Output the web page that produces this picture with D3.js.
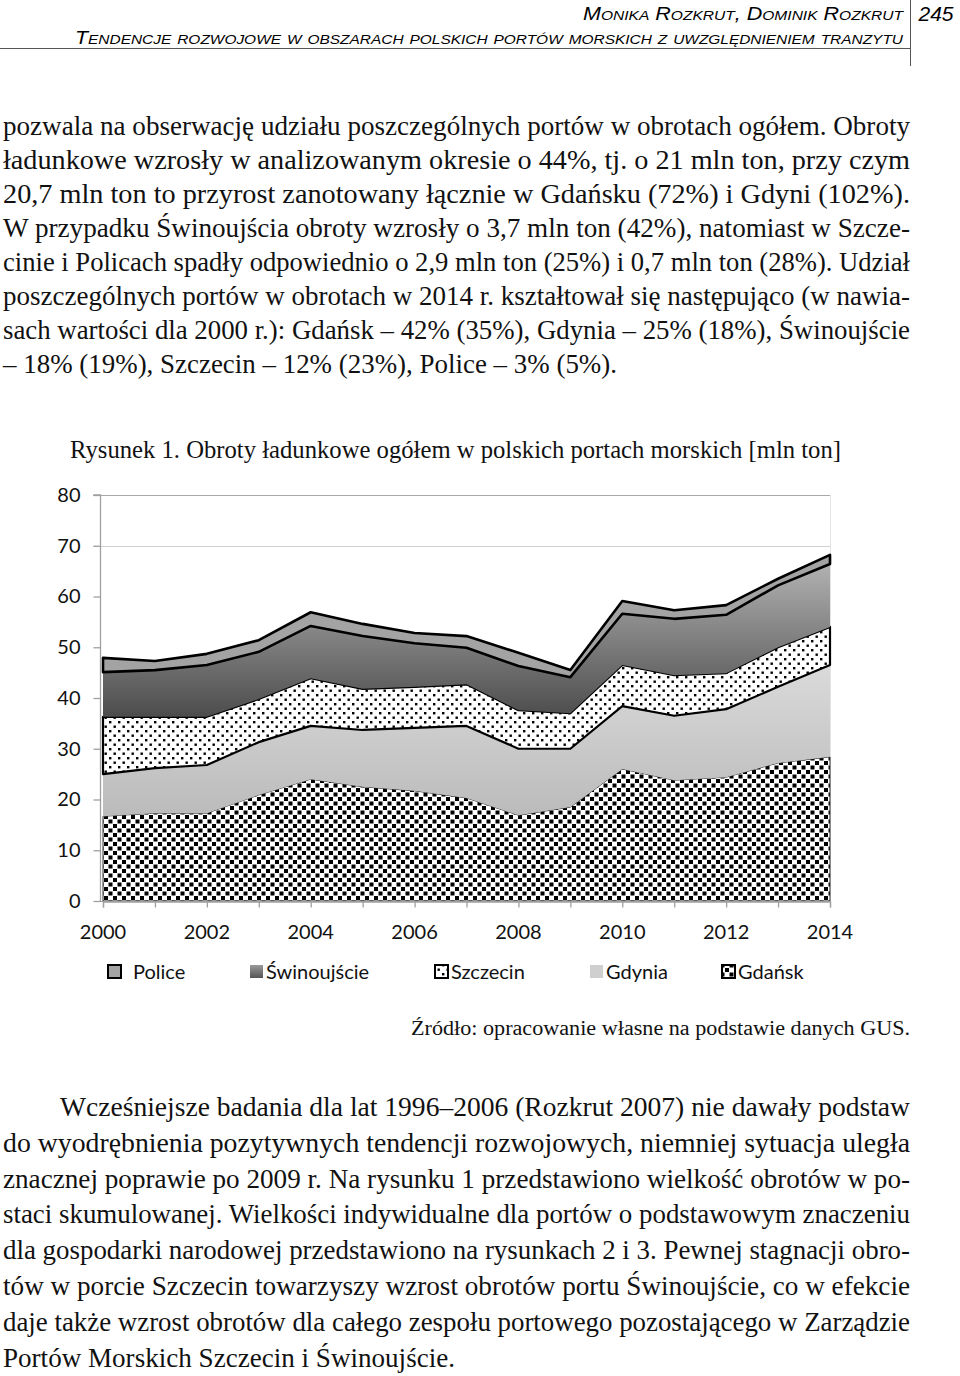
<!DOCTYPE html>
<html><head><meta charset="utf-8">
<script src="https://cdn.jsdelivr.net/npm/d3@7"></script>
<style>body{margin:0;background:#fff}</style>
</head><body>
<svg id="c" width="960" height="1376" xmlns="http://www.w3.org/2000/svg"></svg>
<script>
// ---- data ----
const years = [2000,2001,2002,2003,2004,2005,2006,2007,2008,2009,2010,2011,2012,2013,2014];
const seriesNames = ["Gdańsk","Gdynia","Szczecin","Świnoujście","Police"];
const gdansk      = [16.7,17.3,17.3,20.9,24.0,22.5,21.7,20.3,16.9,18.5,26.0,23.8,24.4,27.2,28.4];
const gdynia      = [8.3, 8.9, 9.5,10.4,10.5,11.2,12.4,14.2,13.1,11.5,12.4,12.7,13.4,15.0,18.1];
const szczecin    = [11.3,10.1,9.5, 8.5, 9.4, 8.1, 8.1, 8.2, 7.6, 7.0, 8.1, 8.0, 7.1, 7.8, 7.5];
const swinoujscie = [8.8, 9.2,10.2, 9.3,10.3,10.4, 8.6, 7.2, 8.7, 7.1,10.1,11.1,11.5,12.2,12.4];
const police      = [2.8, 1.8, 2.2, 2.3, 2.7, 2.4, 2.0, 2.3, 2.6, 1.4, 2.5, 1.7, 1.9, 1.3, 1.8];
const yTicks = [0,10,20,30,40,50,60,70,80];
const xTickLabels = [2000,2002,2004,2006,2008,2010,2012,2014];
const legendOrder = ["Police","Świnoujście","Szczecin","Gdynia","Gdańsk"];

const headerLine1 = "Monika Rozkrut, Dominik Rozkrut";
const headerLine2 = "Tendencje rozwojowe w obszarach polskich portów morskich z uwzględnieniem tranzytu";
const pageNo = "245";
const para1 = [
 "pozwala na obserwację udziału poszczególnych portów w obrotach ogółem. Obroty",
 "ładunkowe wzrosły w analizowanym okresie o 44%, tj. o 21 mln ton, przy czym",
 "20,7 mln ton to przyrost zanotowany łącznie w Gdańsku (72%) i Gdyni (102%).",
 "W przypadku Świnoujścia obroty wzrosły o 3,7 mln ton (42%), natomiast w Szcze-",
 "cinie i Policach spadły odpowiednio o 2,9 mln ton (25%) i 0,7 mln ton (28%). Udział",
 "poszczególnych portów w obrotach w 2014 r. kształtował się następująco (w nawia-",
 "sach wartości dla 2000 r.): Gdańsk – 42% (35%), Gdynia – 25% (18%), Świnoujście",
 "– 18% (19%), Szczecin – 12% (23%), Police – 3% (5%)."
];
const para2 = [
 "Wcześniejsze badania dla lat 1996–2006 (Rozkrut 2007) nie dawały podstaw",
 "do wyodrębnienia pozytywnych tendencji rozwojowych, niemniej sytuacja uległa",
 "znacznej poprawie po 2009 r. Na rysunku 1 przedstawiono wielkość obrotów w po-",
 "staci skumulowanej. Wielkości indywidualne dla portów o podstawowym znaczeniu",
 "dla gospodarki narodowej przedstawiono na rysunkach 2 i 3. Pewnej stagnacji obro-",
 "tów w porcie Szczecin towarzyszy wzrost obrotów portu Świnoujście, co w efekcie",
 "daje także wzrost obrotów dla całego zespołu portowego pozostającego w Zarządzie",
 "Portów Morskich Szczecin i Świnoujście."
];
const captionText = "Rysunek 1. Obroty ładunkowe ogółem w polskich portach morskich [mln ton]";
const sourceText = "Źródło: opracowanie własne na podstawie danych GUS.";

// ---- build table ----
const cols = {"Gdańsk":gdansk,"Gdynia":gdynia,"Szczecin":szczecin,"Świnoujście":swinoujscie,"Police":police};
const table = years.map((y,i)=>{const r={year:y}; seriesNames.forEach(k=>r[k]=cols[k][i]); return r;});

const svg = d3.select("#c");
const defs = svg.append("defs");

// ---- page header ----
const serif = "'Liberation Serif','Times New Roman',serif";
const sans = "'Liberation Sans',Arial,sans-serif";
svg.append("text").attr("x",903).attr("y",20).attr("text-anchor","end")
  .attr("font-family",sans).attr("font-style","italic").attr("font-size",18)
  .style("font-variant","small-caps").attr("textLength",320).attr("lengthAdjust","spacingAndGlyphs")
  .text(headerLine1);
svg.append("text").attr("x",75).attr("y",44)
  .attr("font-family",sans).attr("font-style","italic").attr("font-size",18)
  .style("font-variant","small-caps").attr("textLength",828).attr("lengthAdjust","spacingAndGlyphs")
  .text(headerLine2);
svg.append("text").attr("x",936).attr("y",21).attr("text-anchor","middle")
  .attr("font-family",sans).attr("font-style","italic").attr("font-size",21).text(pageNo);
svg.append("line").attr("x1",0).attr("x2",910).attr("y1",48.5).attr("y2",48.5).attr("stroke","#555").attr("stroke-width",1.2);
svg.append("line").attr("x1",910.5).attr("x2",910.5).attr("y1",0).attr("y2",66).attr("stroke","#555").attr("stroke-width",1);

// ---- paragraphs ----
function textLine(t,x,y,w,size,anchor){
  const el = svg.append("text").attr("x",x).attr("y",y)
    .attr("font-family",serif).attr("font-size",size).attr("fill","#111").text(t);
  if(anchor) el.attr("text-anchor",anchor);
  if(w) el.attr("textLength",w).attr("lengthAdjust","spacingAndGlyphs");
  return el;
}
para1.forEach((t,i)=>{
  const w = i===para1.length-1 ? 614 : 907;
  textLine(t,3,135+34*i,w,27);
});
para2.forEach((t,i)=>{
  let x=3, w=907;
  if(i===0){x=60; w=850;}
  if(i===para2.length-1){w=452;}
  textLine(t,x,1116+35.8*i,w,27);
});
textLine(captionText,70,458,771,26);
textLine(sourceText,411,1035,499,20);

// ---- chart ----
const x = d3.scaleLinear().domain([2000,2014]).range([103,830]);
const y = d3.scaleLinear().domain([0,80]).range([901,495]);

// patterns
const pG = defs.append("pattern").attr("id","pGdansk").attr("patternUnits","userSpaceOnUse")
  .attr("width",9).attr("height",9);
pG.append("rect").attr("width",9).attr("height",9).attr("fill","#fff");
pG.append("rect").attr("x",0.5).attr("y",0.5).attr("width",4).attr("height",4).attr("fill","#000");
pG.append("rect").attr("x",5).attr("y",5).attr("width",4).attr("height",4).attr("fill","#000");

const pS = defs.append("pattern").attr("id","pSzczecin").attr("patternUnits","userSpaceOnUse")
  .attr("width",9).attr("height",9);
pS.append("rect").attr("width",9).attr("height",9).attr("fill","#fff");
pS.append("rect").attr("x",1).attr("y",1).attr("width",2.4).attr("height",2.4).attr("fill","#000");
pS.append("rect").attr("x",5.5).attr("y",5.5).attr("width",2.4).attr("height",2.4).attr("fill","#000");

const gGd = defs.append("linearGradient").attr("id","gGdynia").attr("gradientUnits","userSpaceOnUse")
  .attr("x1",0).attr("x2",0).attr("y1",650).attr("y2",830);
gGd.append("stop").attr("offset",0).attr("stop-color","#dddddd");
gGd.append("stop").attr("offset",1).attr("stop-color","#b8b8b8");

const gSw = defs.append("linearGradient").attr("id","gSwin").attr("gradientUnits","userSpaceOnUse")
  .attr("x1",0).attr("x2",0).attr("y1",560).attr("y2",720);
gSw.append("stop").attr("offset",0).attr("stop-color","#b4b4b4");
gSw.append("stop").attr("offset",1).attr("stop-color","#4a4a4a");

const gSwL = defs.append("linearGradient").attr("id","gSwinL").attr("x1",0).attr("x2",0).attr("y1",0).attr("y2",1);
gSwL.append("stop").attr("offset",0).attr("stop-color","#9a9a9a");
gSwL.append("stop").attr("offset",1).attr("stop-color","#555");

const styles = {
  "Gdańsk":      {fill:"url(#pGdansk)", stroke:"#333", sw:1},
  "Gdynia":      {fill:"url(#gGdynia)", stroke:"none", sw:0},
  "Szczecin":    {fill:"url(#pSzczecin)", stroke:"#000", sw:2.2},
  "Świnoujście": {fill:"url(#gSwin)", stroke:"none", sw:0},
  "Police":      {fill:"#a3a3a3", stroke:"#000", sw:2.6}
};
const legendStyles = {
  "Police":      {fill:"#a3a3a3", stroke:"#000", sw:2},
  "Świnoujście": {fill:"url(#gSwinL)", stroke:"none", sw:0},
  "Szczecin":    {fill:"url(#pSzczecin)", stroke:"#000", sw:2},
  "Gdynia":      {fill:"#cfcfcf", stroke:"none", sw:0},
  "Gdańsk":      {fill:"url(#pGdansk)", stroke:"#000", sw:2}
};

// gridlines
svg.append("line").attr("x1",93).attr("x2",830).attr("y1",Math.round(y(70))+0.5).attr("y2",Math.round(y(70))+0.5)
  .attr("stroke","#d0d0d0").attr("stroke-width",1);
svg.append("line").attr("x1",93).attr("x2",830).attr("y1",Math.round(y(80))+0.5).attr("y2",Math.round(y(80))+0.5)
  .attr("stroke","#a8a8a8").attr("stroke-width",1.2);
svg.append("line").attr("x1",830.5).attr("x2",830.5).attr("y1",y(80)).attr("y2",y(0))
  .attr("stroke","#e4e4e4").attr("stroke-width",1);

const stack = d3.stack().keys(seriesNames)(table);
const area = d3.area().x(d=>x(d.data.year)).y0(d=>y(d[0])).y1(d=>y(d[1]));
svg.append("g").selectAll("path").data(stack).join("path")
  .attr("d",area)
  .attr("fill",d=>styles[d.key].fill)
  .attr("stroke",d=>styles[d.key].stroke)
  .attr("stroke-width",d=>styles[d.key].sw)
  .attr("stroke-linejoin","round");

// axes
const yAxis = svg.append("g").attr("transform","translate(100.5,0)")
  .call(d3.axisLeft(y).tickValues(yTicks).tickSize(7).tickPadding(13).tickFormat(d3.format("d")));
const xAxis = svg.append("g").attr("transform",`translate(0,${Math.round(y(0))+0.5})`)
  .call(d3.axisBottom(x).tickValues(years).tickSize(6).tickPadding(0).tickFormat(""));
xAxis.append("line").attr("x1",100).attr("x2",103).attr("stroke","#a0a0a0");
[yAxis,xAxis].forEach(g=>{
  g.selectAll(".domain,.tick line").attr("stroke","#a0a0a0").attr("stroke-width",1.3);
});
yAxis.select(".domain").attr("d",`M-7,${y(80)}H0V${y(0)}`);
yAxis.selectAll(".tick text").attr("font-family","Lato, 'Open Sans', sans-serif").attr("font-size",20).attr("fill","#111");

svg.append("g").selectAll("text").data(xTickLabels).join("text")
  .attr("x",d=>x(d)).attr("y",939).attr("text-anchor","middle")
  .attr("font-family","Lato, 'Open Sans', sans-serif").attr("font-size",20).attr("fill","#111")
  .text(d=>d);

// legend
const legendX = [108,250,435,590,722];
const lg = svg.append("g");
legendOrder.forEach((k,i)=>{
  const s = legendStyles[k];
  lg.append("rect").attr("x",legendX[i]).attr("y",965).attr("width",13).attr("height",13)
    .attr("fill",s.fill).attr("stroke",s.stroke).attr("stroke-width",s.sw);
  lg.append("text").attr("x",legendX[i]+(k==="Police"?25:16)).attr("y",979)
    .attr("font-family","Lato, 'Open Sans', sans-serif").attr("font-size",20).attr("fill","#111")
    .text(k);
});
</script>
</body></html>
